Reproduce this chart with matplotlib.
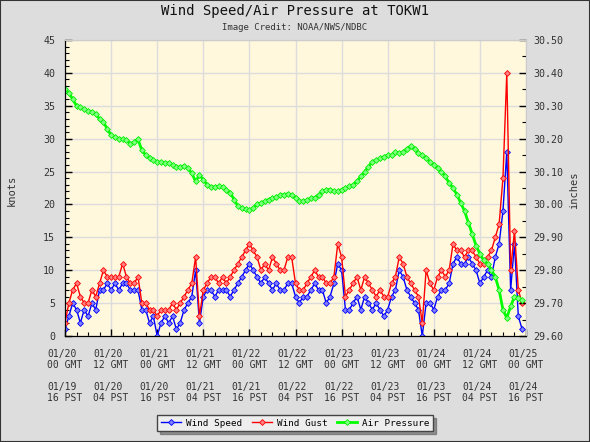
import matplotlib
matplotlib.use("Agg")
import matplotlib.pyplot as plt
from matplotlib.patches import Rectangle
from matplotlib.ticker import MultipleLocator

# hourly readings from 01/20 00 GMT
hours = list(range(120))

wind_speed = [1, 3, 5, 4, 2, 4, 3, 5, 4, 7,
              7, 8, 7, 8, 7, 8, 8, 7, 7, 7,
              4, 4, 2, 3, 0, 2, 3, 2, 3, 1,
              2, 4, 5, 6, 10, 2, 6, 7, 7, 6,
              7, 7, 7, 6, 7, 8, 9, 10, 11, 10,
              9, 8, 9, 8, 7, 8, 7, 7, 8, 8,
              6, 5, 6, 6, 7, 8, 7, 7, 5, 6,
              8, 11, 10, 4, 4, 5, 6, 4, 6, 5,
              4, 5, 4, 3, 4, 6, 7, 10, 9, 7,
              6, 5, 4, 0, 5, 5, 4, 6, 7, 7,
              8, 11, 12, 11, 11, 12, 11, 10, 8, 9,
              10, 9, 12, 14, 19, 28, 7, 14, 3, 1]

wind_gust = [2, 5, 7, 8, 6, 5, 5, 7, 6, 8,
             10, 9, 9, 9, 9, 11, 9, 8, 8, 9,
             5, 5, 4, 4, 3, 4, 4, 4, 5, 4,
             5, 6, 7, 8, 12, 3, 7, 8, 9, 9,
             8, 9, 8, 9, 10, 11, 12, 13, 14, 13,
             12, 10, 11, 10, 12, 11, 10, 10, 12, 12,
             8, 7, 7, 8, 9, 10, 9, 9, 8, 8,
             9, 14, 12, 6, 7, 8, 9, 7, 9, 8,
             7, 6, 7, 6, 6, 8, 9, 12, 11, 9,
             8, 7, 6, 2, 10, 8, 7, 9, 10, 9,
             10, 14, 13, 13, 12, 13, 13, 12, 11, 11,
             12, 13, 15, 17, 24, 40, 10, 16, 7, 5]

air_pressure = [30.35, 30.34, 30.32, 30.30, 30.295, 30.29, 30.285, 30.28, 30.275, 30.26,
                30.25, 30.23, 30.21, 30.205, 30.20, 30.198, 30.195, 30.185, 30.19, 30.198,
                30.165, 30.15, 30.14, 30.135, 30.13, 30.128, 30.127, 30.126, 30.12, 30.115,
                30.113, 30.117, 30.11, 30.095, 30.07, 30.09, 30.075, 30.06, 30.054, 30.053,
                30.055, 30.053, 30.045, 30.036, 30.015, 29.995, 29.988, 29.985, 29.983, 29.99,
                30.00, 30.004, 30.01, 30.015, 30.02, 30.023, 30.028, 30.03, 30.032, 30.028,
                30.02, 30.01, 30.01, 30.012, 30.02, 30.02, 30.03, 30.04, 30.045, 30.045,
                30.04, 30.04, 30.045, 30.05, 30.055, 30.06, 30.07, 30.085, 30.10, 30.115,
                30.13, 30.135, 30.14, 30.145, 30.15, 30.15, 30.16, 30.155, 30.16, 30.17,
                30.178, 30.17, 30.155, 30.15, 30.14, 30.13, 30.12, 30.11, 30.10, 30.085,
                30.065, 30.05, 30.03, 30.005, 29.98, 29.945, 29.91, 29.875, 29.85, 29.83,
                29.82, 29.80, 29.78, 29.74, 29.68, 29.655, 29.69, 29.72, 29.715, 29.71]

tick_hours = [0, 12, 24, 36, 48, 60, 72, 84, 96, 108, 120]
tick_labels = ["01/20\n00 GMT\n\n01/19\n16 PST",
               "01/20\n12 GMT\n\n01/20\n04 PST",
               "01/21\n00 GMT\n\n01/20\n16 PST",
               "01/21\n12 GMT\n\n01/21\n04 PST",
               "01/22\n00 GMT\n\n01/21\n16 PST",
               "01/22\n12 GMT\n\n01/22\n04 PST",
               "01/23\n00 GMT\n\n01/22\n16 PST",
               "01/23\n12 GMT\n\n01/23\n04 PST",
               "01/24\n00 GMT\n\n01/23\n16 PST",
               "01/24\n12 GMT\n\n01/24\n04 PST",
               "01/25\n00 GMT\n\n01/24\n16 PST"]

mono = "DejaVu Sans Mono"
txt = "#333333"

fig = plt.figure(figsize=(5.9, 4.42), dpi=100, facecolor="#dddddd")
fig.patches.append(Rectangle((0, 0), 1, 1, transform=fig.transFigure,
                             fill=False, edgecolor="#333333", linewidth=1.5))

ax1 = fig.add_axes([65/590, 106/442, 461/590, 296/442])
ax1.set_facecolor("#fff8dc")
ax2 = ax1.twinx()

ax1.plot(hours, wind_speed, color="#0000ff", linewidth=1, marker="D", markersize=3,
         markerfacecolor="#8080ff", markeredgecolor="#0000ff", markeredgewidth=0.6,
         label="Wind Speed", zorder=2)
ax1.plot(hours, wind_gust, color="#ff0000", linewidth=1, marker="D", markersize=3,
         markerfacecolor="#ff8080", markeredgecolor="#ff0000", markeredgewidth=0.6,
         label="Wind Gust", zorder=3)
ax2.plot(hours, air_pressure, color="#00ff00", linewidth=2, marker="D", markersize=3,
         markerfacecolor="#80ff80", markeredgecolor="#00ee00", markeredgewidth=0.6,
         label="Air Pressure")

ax1.set_xlim(0, 120)
ax1.set_ylim(0, 45)
ax2.set_ylim(29.60, 30.50)

ax1.set_xticks(tick_hours)
ax1.set_xticklabels(tick_labels, fontfamily=mono, fontsize=7, color=txt,
                    multialignment="left", linespacing=1.15)
ax1.xaxis.set_minor_locator(MultipleLocator(3))
ax1.yaxis.set_major_locator(MultipleLocator(5))
ax1.yaxis.set_minor_locator(MultipleLocator(1))
ax2.set_yticks([29.6 + 0.1*i for i in range(10)])
ax2.set_yticklabels(["%.2f" % (29.6 + 0.1*i) for i in range(10)])
ax2.yaxis.set_minor_locator(MultipleLocator(0.05))

for a in (ax1, ax2):
    a.tick_params(which="both", direction="in", color="#000000")
    a.tick_params(which="major", length=5, width=1)
    a.tick_params(which="minor", length=3, width=0.8)
    for lab in a.get_yticklabels():
        lab.set_fontfamily(mono)
        lab.set_fontsize(7.2)
        lab.set_color(txt)
ax1.tick_params(axis="y", pad=7)
ax1.tick_params(axis="x", pad=9)
ax2.tick_params(axis="y", pad=5)

ax1.grid(True, which="major", color="#dcdcdc", linewidth=1)
ax1.set_axisbelow(True)
for a in (ax1, ax2):
    a.spines["left"].set_color("#000000")
    a.spines["bottom"].set_color("#000000")
    a.spines["top"].set_color("#cccccc")
    a.spines["right"].set_color("#cccccc")

fig.text(295/590, 1 - 11/442, "Wind Speed/Air Pressure at TOKW1", ha="center", va="center",
         fontfamily=mono, fontsize=10, color="#111111")
fig.text(295/590, 1 - 28/442, "Image Credit: NOAA/NWS/NDBC", ha="center", va="center",
         fontfamily=mono, fontsize=6.5, color=txt)
fig.text(12/590, 1 - 190/442, "knots", rotation=90, ha="center", va="center",
         fontfamily=mono, fontsize=7.5, color=txt)
fig.text(574/590, 1 - 190/442, "inches", rotation=90, ha="center", va="center",
         fontfamily=mono, fontsize=7.5, color=txt)

h1, l1 = ax1.get_legend_handles_labels()
h2, l2 = ax2.get_legend_handles_labels()
leg = fig.legend(h1 + h2, l1 + l2, loc="center", bbox_to_anchor=(295/590, 1 - 423/442),
                 ncol=3, fancybox=False, shadow=True, frameon=True,
                 prop={"family": mono, "size": 6.7}, handlelength=2.2, columnspacing=1.0,
                 borderpad=0.4, handletextpad=0.5)
leg.get_frame().set_facecolor("#eeeeee")
leg.get_frame().set_edgecolor("#444444")

fig.savefig("out.png", dpi=100, facecolor=fig.get_facecolor())
